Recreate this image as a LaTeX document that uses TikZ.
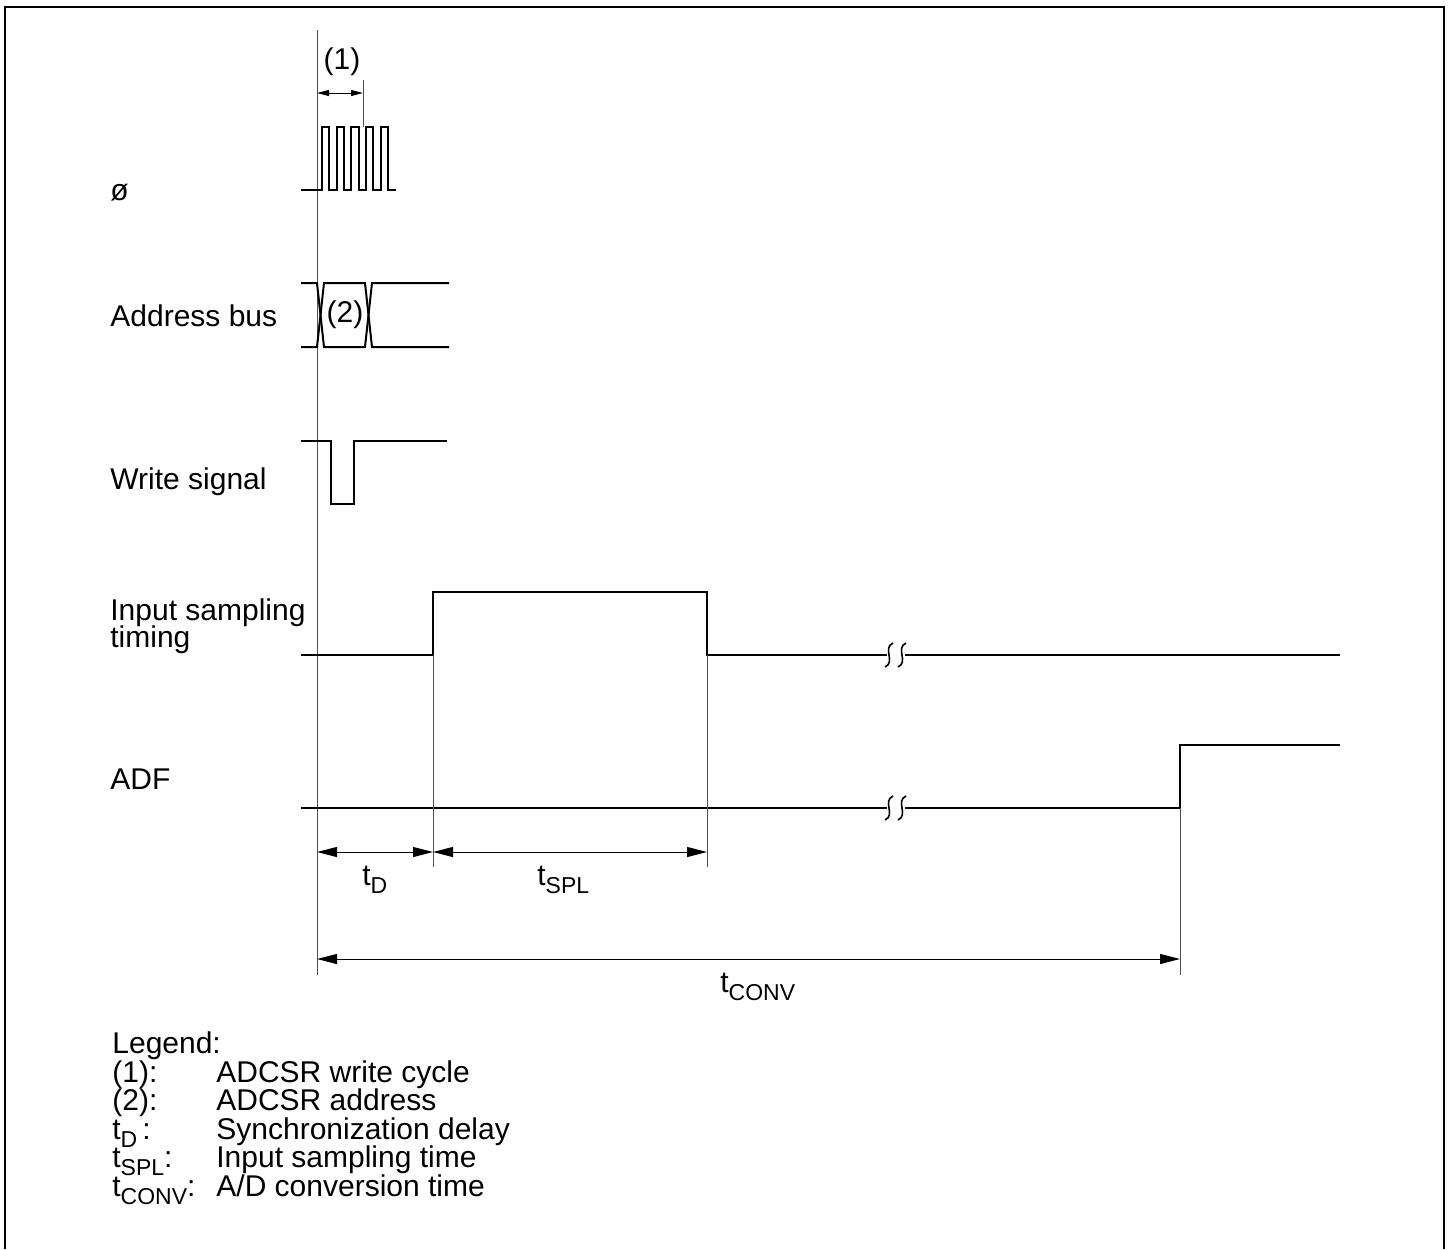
\documentclass[tikz,border=0pt]{standalone}
\usepackage{fontspec}
\setmainfont{Liberation Sans}
\usepackage{tikz}
\usetikzlibrary{arrows.meta}
\definecolor{guideGray}{RGB}{80,80,80}
\newcommand{\tsub}[1]{\raisebox{-4pt}{\fontsize{11.5pt}{13pt}\selectfont #1}}
\tikzset{
  signal/.style={line width=1pt, line join=miter},
  guide/.style={line width=0.5pt, draw=guideGray},
  dimArrow/.style={line width=0.5pt,
    {Triangle[length=10pt,width=5pt]}-{Triangle[length=10pt,width=5pt]}},
  smallArrow/.style={line width=0.5pt,
    {Triangle[length=6pt,width=3pt]}-{Triangle[length=6pt,width=3pt]}},
  txt/.style={inner sep=0pt, font=\fontsize{15pt}{18pt}\selectfont},
  sigLabel/.style={txt, anchor=base west}
}

\begin{document}
\begin{tikzpicture}[x=0.5pt, y=-0.5pt]
  \useasboundingbox (0,0) rectangle (1450,1249);
  \draw[line width=1pt] (5,1249) -- (5,7) -- (1444,7) -- (1444,1249);

  \node[sigLabel] (lblClk) at (110,200) {ø};
  \node[sigLabel] (lblAddr) at (110,326) {Address bus};
  \node[sigLabel] (lblWr) at (110,489) {Write signal};
  \node[sigLabel] (lblSmp) at (110,620) {Input sampling};
  \node[sigLabel] (lblSmp2) at (110,647) {timing};
  \node[sigLabel] (lblAdf) at (110,789) {ADF};

  \coordinate (gTop) at (317,30);
  \coordinate (gBot) at (317,975);
  \draw[guide] (gTop) -- (gBot);

  \draw[signal] (301,190) -- (322,190)
    \foreach \k in {0,...,4} { -- ++(0,-63) -- ++(7.33,0) -- ++(0,63) -- ++(7.33,0) }
    -- (396,190);

  \coordinate (cycL) at (317,93);
  \coordinate (cycR) at (363,93);
  \draw[guide] (363,80) -- (363,127);
  \draw[smallArrow] (cycL) -- (cycR);
  \node[txt] (lblCyc) at (342,62) {(1)};

  \draw[signal] (301,283) -- (317,283) -- (324,347) -- (365,347) -- (372,283) -- (449,283);
  \draw[signal] (301,347) -- (317,347) -- (324,283) -- (365,283) -- (372,347) -- (449,347);
  \node[txt] (lblAdr) at (345,315) {(2)};

  \draw[signal] (301,441) -- (331,441) -- (331,504) -- (354,504) -- (354,441) -- (447,441);

  \draw[signal] (301,655) -- (433,655) -- (433,592) -- (707,592) -- (707,655) -- (887,655);
  \draw[signal] (905,655) -- (1340,655);

  \draw[signal] (301,808) -- (887,808);
  \draw[signal] (905,808) -- (1180,808) -- (1180,745) -- (1340,745);

  \foreach \by in {655,808}
    \foreach \bx in {889,902}
      \draw[signal, line width=0.8pt] (\bx+4,\by-12) .. controls (\bx-7,\by-7) and (\bx+7,\by+7) .. (\bx-4,\by+12);

  \draw[guide] (433,655) -- (433,867);
  \draw[guide] (707,655) -- (707,867);
  \draw[guide] (1180,808) -- (1180,975);

  \coordinate (dA) at (317,852);
  \coordinate (dB) at (433,852);
  \coordinate (dC) at (707,852);
  \draw[dimArrow] (dA) -- (dB);
  \draw[dimArrow] (dB) -- (dC);
  \node[sigLabel] (lblTd) at (362,885) {t\tsub{D}};
  \node[sigLabel] (lblTspl) at (537,885) {t\tsub{SPL}};

  \coordinate (cA) at (317,959);
  \coordinate (cB) at (1180,959);
  \draw[dimArrow] (cA) -- (cB);
  \node[sigLabel] (lblTconv) at (720,992) {t\tsub{CONV}};

  \node[sigLabel] (leg) at (112,1053) {Legend:};
  \node[sigLabel] (leg1) at (112,1082) {(1):};
  \node[sigLabel] (leg1t) at (216,1082) {ADCSR write cycle};
  \node[sigLabel] (leg2) at (112,1110) {(2):};
  \node[sigLabel] (leg2t) at (216,1110) {ADCSR address};
  \node[sigLabel] (leg3) at (112,1139) {t\tsub{D}\,:};
  \node[sigLabel] (leg3t) at (216,1139) {Synchronization delay};
  \node[sigLabel] (leg4) at (112,1167) {t\tsub{SPL}:};
  \node[sigLabel] (leg4t) at (216,1167) {Input sampling time};
  \node[sigLabel] (leg5) at (112,1196) {t\tsub{CONV}:};
  \node[sigLabel] (leg5t) at (216,1196) {A/D conversion time};
\end{tikzpicture}
\end{document}
